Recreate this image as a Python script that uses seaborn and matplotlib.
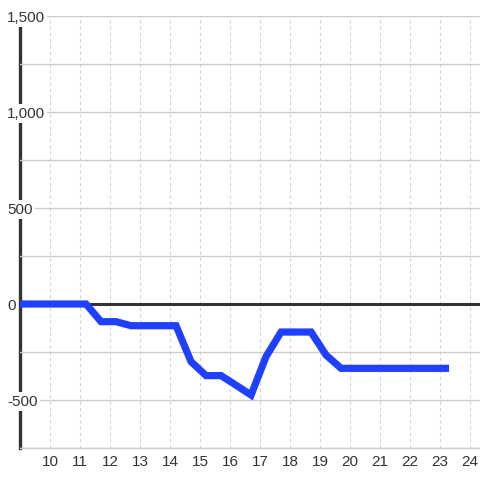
import matplotlib
matplotlib.use("Agg")
import matplotlib.pyplot as plt
import seaborn as sns

# hora do dia e valor acumulado
horas = [9.0, 9.2, 9.7, 10.2, 10.7, 11.2, 11.7, 12.2, 12.7, 13.2, 13.7, 14.2,
         14.7, 15.2, 15.7, 16.2, 16.7, 17.2, 17.7, 18.2, 18.7, 19.2, 19.7,
         20.2, 20.7, 21.2, 21.7, 22.2, 22.7, 23.2, 23.3]
valores = [0, 0, 0, 0, 0, 0, -92, -92, -113, -113, -113, -113,
           -300, -373, -373, -423, -474, -274, -146, -146, -146, -266, -335,
           -335, -335, -335, -335, -335, -335, -335, -335]

ticks_x = list(range(10, 25))
ticks_y = [-500, 0, 500, 1000, 1500]
rotulos_y = ["-500", "0", "500", "1,000", "1,500"]
grade_menor_y = [-750, -250, 250, 750, 1250]

sns.set_style("white")
plt.rcParams['font.family'] = ['Liberation Sans', 'DejaVu Sans']

cor_texto = "#333333"
fig = plt.figure(figsize=(4.8, 4.8), dpi=100)
ax = fig.add_axes([20 / 480, 32 / 480, 460 / 480, 432 / 480])

sns.lineplot(x=horas, y=valores, ax=ax, color="#2040ff", linewidth=5.2,
             sort=False, zorder=4)
for l in ax.lines:
    l.set_solid_capstyle("butt")
    l.set_solid_joinstyle("miter")

ax.axhline(0, color=cor_texto, linewidth=2.2, zorder=3)

ax.set_xlim(9.0, 24.33)
ax.set_ylim(-750, 1500)

ax.set_xticks(ticks_x)
ax.set_xticklabels([str(t) for t in ticks_x])
ax.set_yticks(ticks_y)
ax.set_yticklabels(rotulos_y)
ax.set_yticks(grade_menor_y, minor=True)

# eixo por cima das spines para os rotulos cobrirem a linha
ax.set_axisbelow(False)
ax.grid(True, axis="y", which="both", color="#cccccc", linewidth=1)
ax.grid(True, axis="x", which="major", color="#d0d0d0", linewidth=0.75,
        linestyle=(0, (3, 3)))

ax.tick_params(axis="x", length=0, pad=5, labelsize=11, labelcolor=cor_texto)
ax.tick_params(axis="y", which="both", length=0, pad=9.2, labelsize=11,
               labelcolor=cor_texto)
for lbl in ax.get_yticklabels():
    lbl.set_horizontalalignment("left")
    lbl.set_bbox(dict(facecolor="white", edgecolor="none", pad=1.5))

for s in ["top", "right"]:
    ax.spines[s].set_visible(False)
ax.spines["left"].set_color(cor_texto)
ax.spines["left"].set_linewidth(2.4)
ax.spines["bottom"].set_color("#cccccc")
ax.spines["bottom"].set_linewidth(1)

fig.savefig("out.png", dpi=100, facecolor="white")
